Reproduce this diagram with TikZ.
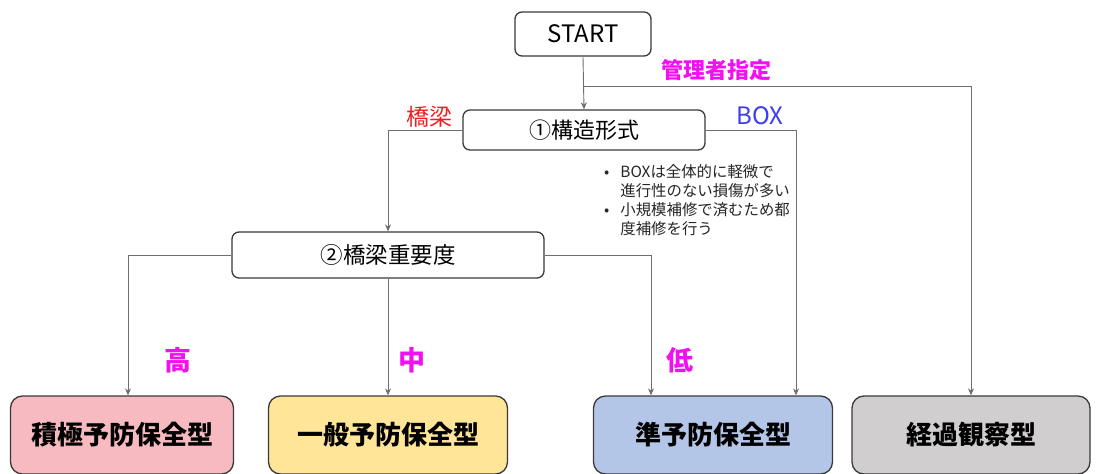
\documentclass[tikz,border=0pt]{standalone}
\usepackage{fontspec}
\setmainfont{Noto Sans CJK JP}
\usetikzlibrary{arrows.meta}
\definecolor{linegray}{HTML}{6E6E6E}
\definecolor{boxedge}{HTML}{3A3A3A}
\definecolor{magentaL}{HTML}{F010F0}
\definecolor{redL}{HTML}{F01E1E}
\definecolor{blueL}{HTML}{3C3CF0}
\definecolor{pinkF}{HTML}{F7BAC0}
\definecolor{yellowF}{HTML}{FFE598}
\definecolor{blueF}{HTML}{B4C6E7}
\definecolor{grayF}{HTML}{D0CECE}
\tikzset{
  decbox/.style={draw=boxedge, line width=1.3pt, rounded corners=7pt, fill=white, inner sep=0pt},
  endbox/.style={draw=boxedge, line width=1.3pt, rounded corners=12pt, inner sep=0pt, minimum height=78pt, font=\fontsize{26}{30}\selectfont\bfseries},
  conn/.style={draw=linegray, line width=0.9pt},
  arr/.style={conn, -{Stealth[length=7pt,width=6pt]}},
  lab/.style={inner sep=0pt, font=\fontsize{22}{26}\selectfont\bfseries},
  lvl/.style={inner sep=0pt, text=magentaL, font=\fontsize{27}{30}\selectfont\bfseries},
}
\begin{document}
\begin{tikzpicture}[x=1pt,y=-1pt]
\useasboundingbox (0,0) rectangle (1096,474);
% boxes
\node[decbox, minimum width=136pt, minimum height=44pt, font=\fontsize{24}{28}\selectfont] (start) at (583,34) {START};
\node[decbox, minimum width=242pt, minimum height=40pt, font=\fontsize{22}{26}\selectfont] (q1) at (584,130) {①構造形式};
\node[decbox, minimum width=312pt, minimum height=46pt, font=\fontsize{22.5}{26}\selectfont] (q2) at (388,255) {②橋梁重要度};
\node[endbox, fill=pinkF, minimum width=223pt] (e1) at (122,435) {積極予防保全型};
\node[endbox, fill=yellowF, minimum width=239pt] (e2) at (388,435) {一般予防保全型};
\node[endbox, fill=blueF, minimum width=239pt] (e3) at (713,435) {準予防保全型};
\node[endbox, fill=grayF, minimum width=238pt] (e4) at (971,435) {経過観察型};
% coordinates
\coordinate (j0) at (583,86);
% connectors
\draw[arr] (start.south) -- (q1.north);
\draw[arr] (j0) -| (e4.north);
\draw[arr] (q1.west) -| (q2.north);
\draw[arr] (q1.east) -| ([xshift=83pt]e3.north);
\draw[arr] (q2.west) -| ([xshift=6pt]e1.north);
\draw[arr] (q2.south) -- (e2.north);
\draw[arr] (q2.east) -| ([xshift=-62pt]e3.north);
% labels
\node[lab, text=magentaL] (l0) at (716,70) {管理者指定};
\node[lab, text=redL, font=\fontsize{23}{26}\selectfont] (l1) at (429,117) {橋梁};
\node[lab, text=blueL, font=\fontsize{24}{26}\selectfont] (l2) at (760,116) {BOX};
\node[lvl] (lh) at (178,360) {高};
\node[lvl] (lm) at (412,360) {中};
\node[lvl] (ll) at (680,360) {低};
% note
\node[anchor=north west, inner sep=0pt, font=\fontsize{15.4}{19}\selectfont, text=black!85] (note) at (604,164)
{\begin{tabular}{@{}l@{\hspace{11pt}}l@{}}
•&BOXは全体的に軽微で\\
&進行性のない損傷が多い\\
•&小規模補修で済むため都\\
&度補修を行う
\end{tabular}};
\end{tikzpicture}
\end{document}
